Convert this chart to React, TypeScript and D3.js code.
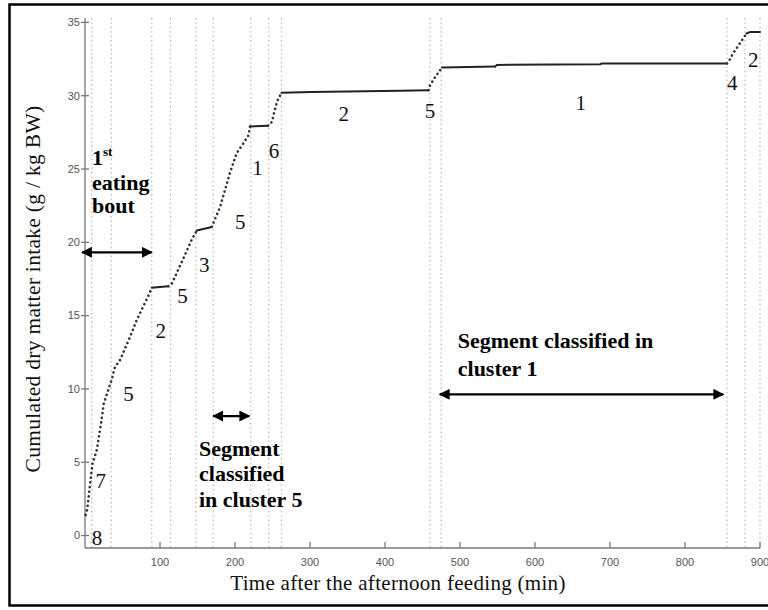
import * as d3 from 'd3';

const WIDTH = 768;
const HEIGHT = 610;
const MARGIN = { top: 18, right: 8, bottom: 62, left: 85 };

// cumulated intake curve (breakpoints)
const TIME = [1, 3, 6, 8, 10, 16, 19, 21, 25, 36, 40, 47, 60, 69, 84, 89, 111, 116, 124, 133, 142, 149, 169, 180, 193, 202, 211, 218, 220, 244, 249, 256, 262, 302, 420, 458, 460, 467, 476, 547, 549, 687, 689, 856, 858, 864, 873, 882, 887, 900];
const INTAKE = [1.4, 1.8, 3.15, 4.06, 4.9, 5.9, 6.9, 7.5, 9.0, 10.7, 11.5, 12.0, 13.55, 14.7, 16.3, 16.9, 17.0, 17.2, 18.1, 19.1, 20.15, 20.8, 21.05, 22.4, 24.7, 26.06, 26.74, 27.3, 27.9, 27.95, 28.2, 29.6, 30.2, 30.25, 30.33, 30.37, 30.7, 31.28, 31.92, 32.0, 32.1, 32.15, 32.19, 32.2, 32.3, 32.88, 33.56, 34.24, 34.35, 34.35];

// segmentation: boundaries (min) and the cluster of each segment
const BOUNDARIES = [9, 35, 89, 114, 148, 171, 221, 245, 262, 460, 475, 856, 880, 900];
const CLUSTERS = ['8', '7', '5', '2', '5', '3', '5', '1', '6', '2', '5', '1', '4', '2'];
const LABEL_T = [16, 21, 58, 101, 130, 159, 207, 230, 252, 345, 460, 661, 863, 891];
const LABEL_V = [-0.65, 3.23, 9.17, 13.44, 15.83, 18.0, 20.94, 24.58, 25.78, 28.28, 28.51, 29.01, 30.42, 31.96];

const X_TICKS = [100, 200, 300, 400, 500, 600, 700, 800, 900];
const Y_TICKS = [0, 5, 10, 15, 20, 25, 30, 35];

const SERIF = '"Liberation Serif", "Times New Roman", serif';
const SANS = '"Liberation Sans", Arial, sans-serif';

export default function App() {
  const x = d3.scaleLinear().domain([0, 900]).range([MARGIN.left, WIDTH - MARGIN.right]);
  const y = d3.scaleLinear().domain([-0.85, 35.3]).range([HEIGHT - MARGIN.bottom, MARGIN.top]);

  const points: [number, number][] = TIME.map((t, i) => [t, INTAKE[i]]);
  const line = d3
    .line<[number, number]>()
    .x((d) => x(d[0]))
    .y((d) => y(d[1]));

  // split the curve into steep (eating, sparse dots) and flat (dense, solid) pieces
  const pieces: { steep: boolean; pts: [number, number][] }[] = [];
  for (let i = 1; i < points.length; i++) {
    const a = points[i - 1];
    const b = points[i];
    const steep = (b[1] - a[1]) / (b[0] - a[0]) > 0.03;
    const last = pieces[pieces.length - 1];
    if (last && last.steep === steep) last.pts.push(b);
    else pieces.push({ steep, pts: [a, b] });
  }

  const y0 = y.range()[0];
  const y1 = y.range()[1];

  return (
    <svg
      width={WIDTH}
      height={HEIGHT}
      style={{ position: 'absolute', left: 0, top: 0, background: '#fff' }}
    >
      <defs>
        <marker id="ah" viewBox="0 0 10 10" refX="9" refY="5" markerWidth="5" markerHeight="5" orient="auto-start-reverse">
          <path d="M0,0 L10,5 L0,10 z" fill="#000" />
        </marker>
      </defs>

      {/* figure frame */}
      <path d={`M${WIDTH} 4.5 H9.5 V605.5 H${WIDTH}`} fill="none" stroke="#000" strokeWidth={2.5} />

      {/* segment boundaries */}
      {BOUNDARIES.map((t, i) => (
        <line
          key={i}
          x1={x(t)}
          x2={x(t)}
          y1={y1}
          y2={y0}
          stroke="#bcbcbc"
          strokeWidth={1.4}
          strokeDasharray="1.4 3"
        />
      ))}

      {/* axes */}
      <g stroke="#777" fill="none" strokeWidth={1.3}>
        <line x1={x(0)} x2={x(0)} y1={y1} y2={y0} />
        <line x1={x(0)} x2={x(900)} y1={y0} y2={y0} />
        {Y_TICKS.map((v) => (
          <line key={v} x1={x(0) - 4} x2={x(0) + 4} y1={y(v)} y2={y(v)} />
        ))}
        {X_TICKS.map((t) => (
          <line key={t} x1={x(t)} x2={x(t)} y1={y0} y2={y0 - 6} />
        ))}
      </g>
      <g fontFamily={SANS} fontSize={11} fill="#555">
        {Y_TICKS.map((v) => (
          <text key={v} x={x(0) - 5} y={y(v)} dy="0.35em" textAnchor="end">
            {v}
          </text>
        ))}
        {X_TICKS.map((t) => (
          <text key={t} x={x(t)} y={y0 + 18} textAnchor="middle">
            {t}
          </text>
        ))}
      </g>

      {/* axis titles */}
      <text x={398} y={590} textAnchor="middle" fontFamily={SERIF} fontSize={21} letterSpacing={0.3} fill="#111">
        Time after the afternoon feeding (min)
      </text>
      <text
        transform={`translate(40, ${289}) rotate(-90)`}
        textAnchor="middle"
        fontFamily={SERIF}
        fontSize={21.5}
        letterSpacing={0.3}
        fill="#111"
      >
        Cumulated dry matter intake (g / kg BW)
      </text>

      {/* intake curve */}
      {pieces.map((p, i) => (
        <path
          key={i}
          d={line(p.pts) ?? ''}
          fill="none"
          stroke={p.steep ? '#333' : '#222'}
          strokeWidth={p.steep ? 2.6 : 2}
          strokeLinecap="round"
          strokeDasharray={p.steep ? '0.1 4.6' : undefined}
        />
      ))}

      {/* cluster labels */}
      <g fontFamily={SERIF} fontSize={21} fill="#111">
        {CLUSTERS.map((c, i) => (
          <text key={i} x={x(LABEL_T[i])} y={y(LABEL_V[i])} textAnchor="middle">
            {c}
          </text>
        ))}
      </g>

      {/* annotations */}
      <g fontFamily={SERIF} fontSize={22} fontWeight="bold" fill="#000">
        <text x={x(9.3)} y={y(25.27)}>
          1<tspan fontSize={13} dy={-9}>st</tspan>
        </text>
        <text x={x(9.3)} y={y(23.56)}>eating</text>
        <text x={x(9.3)} y={y(22.0)}>bout</text>

        <text x={x(152)} y={y(5.42)}>Segment</text>
        <text x={x(152)} y={y(3.72)}>classified</text>
        <text x={x(152)} y={y(1.94)}>in cluster 5</text>

        <text x={x(497)} y={y(12.77)}>Segment classified in</text>
        <text x={x(497)} y={y(10.9)}>cluster 1</text>
      </g>
      <g stroke="#000" strokeWidth={2.2}>
        <line x1={x(-4)} x2={x(89)} y1={y(19.32)} y2={y(19.32)} markerStart="url(#ah)" markerEnd="url(#ah)" />
        <line x1={x(171)} x2={x(219)} y1={y(8.15)} y2={y(8.15)} markerStart="url(#ah)" markerEnd="url(#ah)" />
        <line x1={x(473)} x2={x(851)} y1={y(9.63)} y2={y(9.63)} markerStart="url(#ah)" markerEnd="url(#ah)" />
      </g>
    </svg>
  );
}
